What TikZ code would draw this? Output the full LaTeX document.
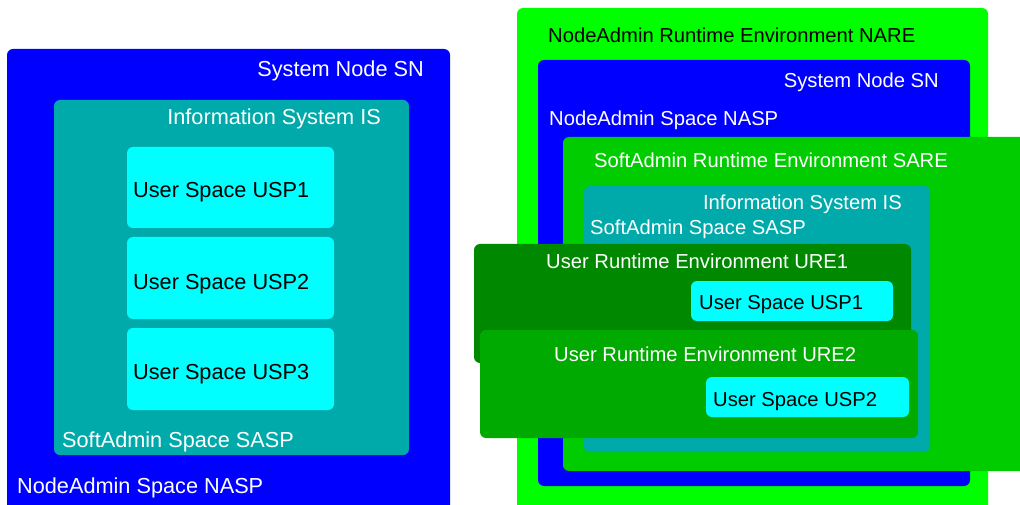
\documentclass[tikz,border=0pt]{standalone}
\usepackage{fontspec}
\setmainfont{Liberation Sans}
\definecolor{snblue}{RGB}{0,0,255}
\definecolor{isteal}{RGB}{0,170,170}
\definecolor{uspcyan}{RGB}{0,255,255}
\definecolor{narelime}{RGB}{0,255,0}
\definecolor{saregreen}{RGB}{0,204,0}
\definecolor{ureonegreen}{RGB}{0,136,0}
\definecolor{uretwogreen}{RGB}{0,170,0}
\begin{document}
\begin{tikzpicture}[x=1pt,y=-1pt,
  box/.style={rounded corners=6pt},
  lbl/.style={inner sep=0pt,font=\fontsize{21.7}{26}\selectfont},
  wl/.style={lbl,white,anchor=base west},
  wr/.style={lbl,white,anchor=base east},
  bl/.style={lbl,black,anchor=base west}]
\clip (0,0) rectangle (1020,505);
% left: system node
\fill[box,snblue] (7,49) rectangle (450,515);
\fill[box,isteal] (54,100) rectangle (409,455);
\fill[box,uspcyan] (127,147) rectangle (334,228);
\fill[box,uspcyan] (127,237) rectangle (334,319);
\fill[box,uspcyan] (127,328) rectangle (334,410);
\node[wr] (snA) at (424,77) {System Node SN};
\node[wr] (isA) at (381,125) {Information System IS};
\node[bl] (uspA) at (133,198) {User Space USP1};
\node[bl] (uspB) at (133,289) {User Space USP2};
\node[bl] (uspC) at (133,379) {User Space USP3};
\node[wl] (saspA) at (62,447) {SoftAdmin Space SASP};
\node[wl] (naspA) at (17,493) {NodeAdmin Space NASP};
% right: runtime environments
\begin{scope}[lbl/.style={inner sep=0pt,font=\fontsize{20.2}{24}\selectfont}]
\fill[box,narelime] (517,8) rectangle (988,515);
\fill[box,snblue] (538,60) rectangle (970,486);
\fill[box,saregreen] (563,137) rectangle (1030,471);
\fill[box,isteal] (584,186) rectangle (930,452);
\fill[box,ureonegreen] (474,244) rectangle (911,363);
\fill[box,uspcyan] (691,281) rectangle (893,321);
\fill[box,uretwogreen] (480,330) rectangle (918,438);
\fill[box,uspcyan] (706,377) rectangle (909,417);
\node[bl] (nare) at (548,43) {NodeAdmin Runtime Environment NARE};
\node[wr] (snB) at (939,88) {System Node SN};
\node[wl] (naspB) at (549,126) {NodeAdmin Space NASP};
\node[wl] (sare) at (594,168) {SoftAdmin Runtime Environment SARE};
\node[wr] (isB) at (902,210) {Information System IS};
\node[wl] (saspB) at (590,235) {SoftAdmin Space SASP};
\node[wl] (ureA) at (546,269) {User Runtime Environment URE1};
\node[bl] (uspD) at (699,309) {User Space USP1};
\node[wl] (ureB) at (554,361) {User Runtime Environment URE2};
\node[bl] (uspE) at (713,406) {User Space USP2};
\end{scope}
\end{tikzpicture}
\end{document}
